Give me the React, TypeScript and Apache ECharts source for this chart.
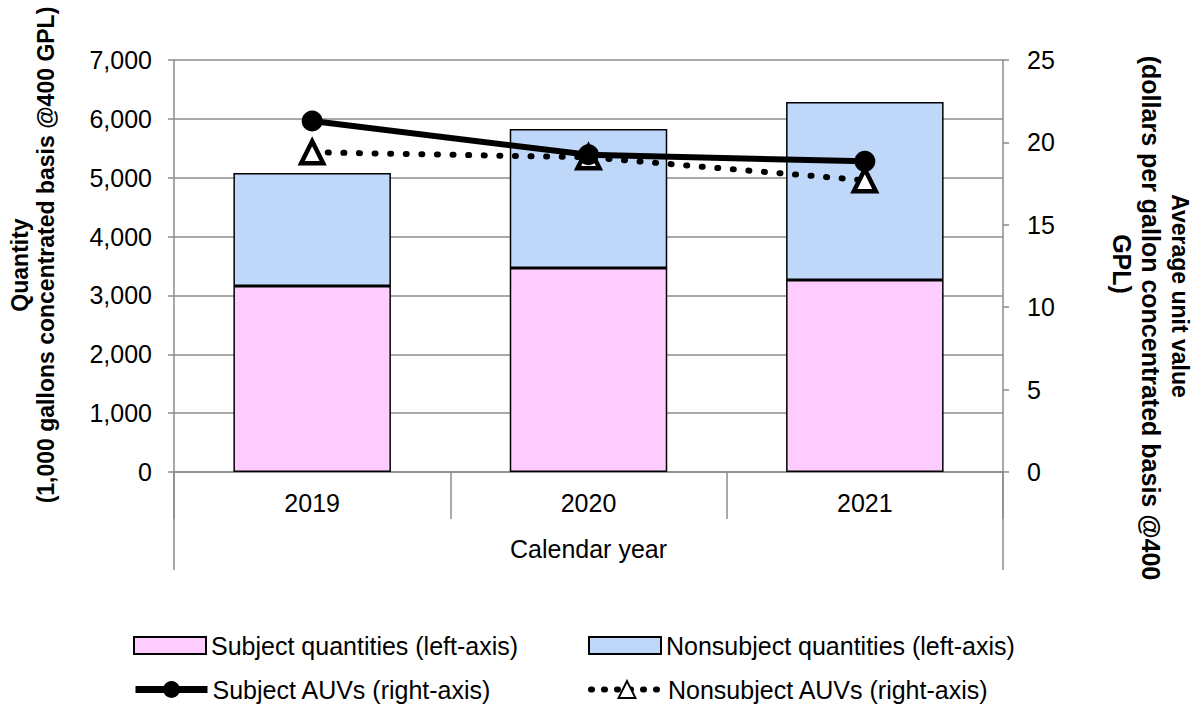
import React, { useEffect, useRef } from "react";
import * as echarts from "echarts";

const years = ["2019", "2020", "2021"];
const subjectQty = [3160, 3466, 3262];
const nonsubjectQty = [1920, 2361, 3024];
const subjectAUV = [21.3, 19.25, 18.85];
const nonsubjectAUV = [19.4, 19.1, 17.7];

const leftMax = 7000;
const leftInterval = 1000;
const rightMax = 25;
const rightInterval = 5;

const seriesNames = [
  "Subject quantities (left-axis)",
  "Nonsubject quantities (left-axis)",
  "Subject AUVs (right-axis)",
  "Nonsubject AUVs (right-axis)",
];

const FONT = "'Liberation Sans', Arial, sans-serif";
const GRAY = "#8c8c8c";
const DOTS = [1, 14.6];

export default function App() {
  const ref = useRef<HTMLDivElement>(null);
  useEffect(() => {
    if (!ref.current) return;
    const chart = echarts.init(ref.current, null, { renderer: "svg" });
    const legendText = { color: "#000", fontSize: 25, fontFamily: FONT };
    const mkLegend = (name: string, left: number, top: number, h: number) => ({
      show: true,
      data: [name],
      left,
      top,
      orient: "horizontal",
      itemWidth: 72,
      itemHeight: h,
      selectedMode: false,
      textStyle: legendText,
      padding: 0,
    });
    chart.setOption({
      animation: false,
      backgroundColor: "#fff",
      textStyle: { fontFamily: FONT },
      grid: { left: 174, right: 193, top: 60, bottom: 234, containLabel: false },
      legend: [
        { ...mkLegend(seriesNames[0], 133, 633, 17), icon: "rect", itemStyle: { borderWidth: 2 } },
        { ...mkLegend(seriesNames[1], 588, 633, 17), icon: "rect", itemStyle: { borderWidth: 2 } },
        { ...mkLegend(seriesNames[2], 132, 677, 21), lineStyle: { width: 7 } },
        { ...mkLegend(seriesNames[3], 588, 677, 21), lineStyle: { width: 6, type: [1, 12], cap: "round" } },
      ],
      xAxis: {
        type: "category",
        data: years,
        axisLine: { lineStyle: { color: GRAY, width: 1.5 } },
        axisTick: { show: true, length: 47, lineStyle: { color: GRAY, width: 1.5 } },
        axisLabel: { color: "#000", fontSize: 25, fontFamily: FONT, margin: 18 },
        name: "Calendar year",
        nameLocation: "middle",
        nameGap: 64,
        nameTextStyle: { color: "#000", fontSize: 25, fontFamily: FONT },
      },
      yAxis: [
        {
          type: "value",
          min: 0,
          max: leftMax,
          interval: leftInterval,
          axisLine: { show: true, lineStyle: { color: GRAY, width: 1.5 } },
          axisTick: { show: true, length: 6, lineStyle: { color: GRAY, width: 1.5 } },
          splitLine: { show: true, lineStyle: { color: GRAY, width: 1.5 } },
          axisLabel: {
            color: "#000",
            fontSize: 25,
            fontFamily: FONT,
            margin: 22,
            formatter: (v: number) => v.toLocaleString("en-US"),
          },
        },
        {
          type: "value",
          position: "right",
          min: 0,
          max: rightMax,
          interval: rightInterval,
          axisLine: { show: true, lineStyle: { color: GRAY, width: 1.5 } },
          axisTick: { show: true, length: 6, lineStyle: { color: GRAY, width: 1.5 } },
          splitLine: { show: false },
          axisLabel: { color: "#000", fontSize: 25, fontFamily: FONT, margin: 24 },
        },
      ],
      series: [
        {
          name: seriesNames[0],
          type: "bar",
          stack: "qty",
          data: subjectQty,
          barWidth: "57%",
          itemStyle: { color: "#FFCCFF", borderColor: "#000", borderWidth: 1.5 },
        },
        {
          name: seriesNames[1],
          type: "bar",
          stack: "qty",
          data: nonsubjectQty,
          barWidth: "57%",
          itemStyle: { color: "#BFD8FA", borderColor: "#000", borderWidth: 1.5 },
        },
        {
          name: seriesNames[2],
          type: "line",
          yAxisIndex: 1,
          data: subjectAUV,
          symbol: "circle",
          symbolSize: 21,
          z: 6,
          lineStyle: { color: "#000", width: 6 },
          itemStyle: { color: "#000" },
        },
        {
          name: seriesNames[3],
          type: "line",
          yAxisIndex: 1,
          data: nonsubjectAUV,
          symbol: "triangle",
          symbolSize: 22,
          z: 5,
          lineStyle: { color: "#000", width: 6, type: DOTS, cap: "round" },
          itemStyle: { color: "#fff", borderColor: "#000", borderWidth: 4.5 },
        },
      ],
      graphic: [
        {
          type: "line",
          shape: { x1: 174, y1: 472, x2: 174, y2: 570 },
          style: { stroke: GRAY, lineWidth: 1.5 },
        },
        {
          type: "line",
          shape: { x1: 1003, y1: 472, x2: 1003, y2: 570 },
          style: { stroke: GRAY, lineWidth: 1.5 },
        },
        {
          type: "text",
          x: 20,
          y: 265,
          rotation: Math.PI / 2,
          style: {
            text: "Quantity",
            fontSize: 23,
            fontWeight: "bold",
            fontFamily: FONT,
            fill: "#000",
            align: "center",
            verticalAlign: "middle",
          },
        },
        {
          type: "text",
          x: 46,
          y: 255,
          rotation: Math.PI / 2,
          style: {
            text: "(1,000 gallons concentrated basis @400 GPL)",
            fontSize: 23,
            fontWeight: "bold",
            fontFamily: FONT,
            fill: "#000",
            align: "center",
            verticalAlign: "middle",
          },
        },
        {
          type: "text",
          x: 1180,
          y: 296,
          rotation: -Math.PI / 2,
          style: {
            text: "Average unit value",
            fontSize: 23,
            fontWeight: "bold",
            fontFamily: FONT,
            fill: "#000",
            align: "center",
            verticalAlign: "middle",
          },
        },
        {
          type: "text",
          x: 1151,
          y: 318,
          rotation: -Math.PI / 2,
          style: {
            text: "(dollars per gallon concentrated basis @400",
            fontSize: 25,
            fontWeight: "bold",
            fontFamily: FONT,
            fill: "#000",
            align: "center",
            verticalAlign: "middle",
          },
        },
        {
          type: "text",
          x: 1122,
          y: 264,
          rotation: -Math.PI / 2,
          style: {
            text: "GPL)",
            fontSize: 25,
            fontWeight: "bold",
            fontFamily: FONT,
            fill: "#000",
            align: "center",
            verticalAlign: "middle",
          },
        },
      ],
    });
    return () => chart.dispose();
  }, []);
  return (
    <div
      ref={ref}
      style={{ position: "fixed", left: 0, top: 0, width: 1196, height: 706, background: "#fff" }}
    />
  );
}
